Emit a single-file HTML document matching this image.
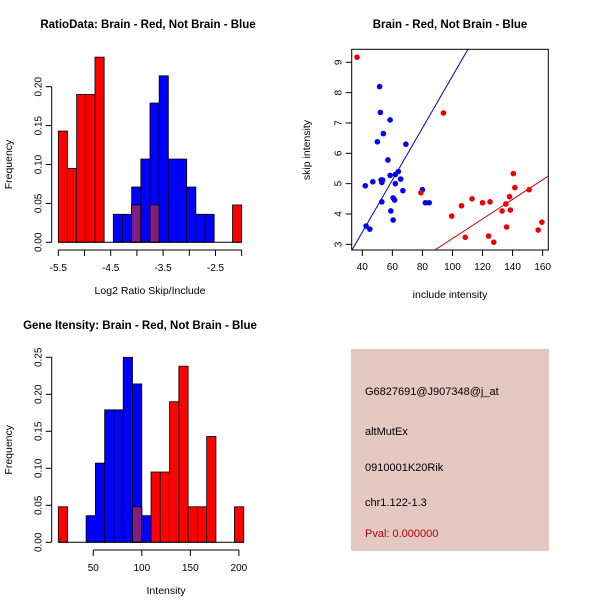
<!DOCTYPE html>
<html><head><meta charset="utf-8"><style>
body{margin:0;background:#fff}
svg{display:block;font-family:"Liberation Sans",sans-serif}
</style></head><body>
<svg id="s" width="600" height="600" xmlns="http://www.w3.org/2000/svg">
<rect width="600" height="600" fill="#fff"/>
<text x="148" y="28" text-anchor="middle" font-size="11.5" font-weight="bold">RatioData: Brain - Red, Not Brain - Blue</text>
<text x="450" y="28" text-anchor="middle" font-size="11.5" font-weight="bold">Brain - Red, Not Brain - Blue</text>
<text x="140" y="329" text-anchor="middle" font-size="11.5" font-weight="bold">Gene Itensity: Brain - Red, Not Brain - Blue</text>
<g id="p1"></g>
<g id="p2"></g>
<g id="p3"></g>
<g font-size="11">
<rect x="351" y="349" width="198" height="202" fill="#e6c8c2"/>
<text x="365" y="395">G6827691@J907348@j_at</text>
<text x="365" y="435">altMutEx</text>
<text x="365" y="471">0910001K20Rik</text>
<text x="365" y="506">chr1.122-1.3</text>
<text x="365" y="537" fill="#b00000">Pval: 0.000000</text>
</g>
</svg>
<script>
// Histogram 1 data (bin index -> frequency)
const h1Red = [0.143,0.095,0.19,0.19,0.238,0,0,0,0.048,0,0.048,0,0,0,0,0,0,0,0,0.048];
const h1Blue = [0,0,0,0,0,0,0.036,0.036,0.071,0.107,0.179,0.214,0.107,0.107,0.071,0.036,0.036,0,0,0];
const h1XTicks = [-5.5,-5,-4.5,-4,-3.5,-3,-2.5,-2];
const h1XLabels = ["-5.5","","-4.5","","-3.5","","-2.5",""];
const h1YTicks = [0,0.05,0.10,0.15,0.20];
const h1YLabels = ["0.00","0.05","0.10","0.15","0.20"];
// Histogram 3 data
const h3Red = [0.048,0,0,0,0,0,0,0,0.048,0,0.095,0.095,0.19,0.238,0.048,0.048,0.143,0,0,0.048];
const h3Blue = [0,0,0,0.036,0.107,0.179,0.179,0.25,0.214,0.036,0,0,0,0,0,0,0,0,0,0];
const h3XTicks = [50,100,150,200];
const h3YTicks = [0,0.05,0.10,0.15,0.20,0.25];
const h3YLabels = ["0.00","0.05","0.10","0.15","0.20","0.25"];
// Scatter data
const blueX = [51.5,52,58.5,54,50,69,57,64,62,58.5,65.5,52.5,53.5,53,47,42,62,80,67,60.5,61.5,53,82,84.5,59,60.5,42.5,45];
const blueY = [8.2,7.35,7.1,6.65,6.38,6.3,5.78,5.4,5.3,5.27,5.15,5.12,5.12,5.04,5.06,4.93,5,4.8,4.77,4.53,4.46,4.4,4.37,4.37,4.1,3.8,3.6,3.5];
const redX = [36.5,94,79,99.5,106,113,108.5,120,125,124,127.5,133,135.5,136,138,138.5,140.5,141.5,151,157,159.5];
const redY = [9.17,7.33,4.7,3.93,4.27,4.5,3.23,4.37,4.4,3.27,3.07,4.1,4.33,3.57,4.57,4.13,5.33,4.87,4.8,3.47,3.73];
const blueFit = [-0.032,0.0858];
const redFit = [-0.04,0.0323];
const sxTicks = [40,60,80,100,120,140,160];
const syTicks = [3,4,5,6,7,8,9];

const NS="http://www.w3.org/2000/svg";
function mk(parent,tag,attrs){const e=document.createElementNS(NS,tag);for(const k in attrs)e.setAttribute(k,attrs[k]);parent.appendChild(e);return e;}

function hist(g,red,blue,x0,bw,px0,pxPerUnit,y0px,pyPerUnit,xt,xl,xtLo,xtHi,yt,yl,axisX,axisBot,xlabel,nameP){
  const X=v=>px0+(v-x0)*pxPerUnit, Y=v=>y0px-v*pyPerUnit;
  for(let i=0;i<red.length;i++){
    const xa=X(x0+i*bw), w=bw*pxPerUnit;
    if(red[i]>0){const r=mk(g,'rect',{x:xa,y:Y(red[i]),width:w,height:red[i]*pyPerUnit,fill:'#ff0000',stroke:'#000','stroke-width':0.8});
      
      }
  }
  for(let i=0;i<blue.length;i++){
    const xa=X(x0+i*bw), w=bw*pxPerUnit;
    if(blue[i]>0){const r=mk(g,'rect',{x:xa,y:Y(blue[i]),width:w,height:blue[i]*pyPerUnit,fill:'#0000ff',stroke:'#000','stroke-width':0.8});
      
      
      const m=Math.min(blue[i],red[i]);
      if(m>0){const o=mk(g,'rect',{x:xa,y:Y(m),width:w,height:m*pyPerUnit,fill:'#7f1f80',stroke:'#000','stroke-width':0.8});
        
        }
    }
  }
  mk(g,'line',{x1:X(x0),x2:X(x0+red.length*bw),y1:y0px,y2:y0px,stroke:'#000'});
  mk(g,'line',{x1:X(xtLo),x2:X(xtHi),y1:axisBot,y2:axisBot,stroke:'#000'});
  xt.forEach((v,i)=>{mk(g,'line',{x1:X(v),x2:X(v),y1:axisBot,y2:axisBot+6,stroke:'#000'});
    if(xl[i]){const t=mk(g,'text',{x:X(v),y:axisBot+21,'text-anchor':'middle','font-size':10});t.textContent=xl[i];
      
      }});
  mk(g,'line',{x1:axisX,x2:axisX,y1:Y(yt[0]),y2:Y(yt[yt.length-1]),stroke:'#000'});
  yt.forEach((v,i)=>{mk(g,'line',{x1:axisX,x2:axisX-6,y1:Y(v),y2:Y(v),stroke:'#000'});
    const t=mk(g,'text',{x:axisX-10,y:Y(v),'text-anchor':'middle','font-size':10,transform:`rotate(-90 ${axisX-10} ${Y(v)})`});t.textContent=yl[i];
    
    });
  const xt2=mk(g,'text',{x:(X(xtLo)+X(xtHi))/2,y:axisBot+44,'text-anchor':'middle','font-size':10.5});xt2.textContent=xlabel;
  
  
  const yc=(Y(yt[0])+Y(yt[yt.length-1]))/2;
  const yt2=mk(g,'text',{x:12,y:yc,'text-anchor':'middle','font-size':10.5,transform:`rotate(-90 12 ${yc})`});yt2.textContent='Frequency';
  
  
}
const p1=document.getElementById('p1');
hist(p1,h1Red,h1Blue,-5.5,0.175,58.3,52.4,242.3,778,h1XTicks,h1XLabels,-5.5,-2,h1YTicks,h1YLabels,51.7,250,'Log2 Ratio Skip/Include','ratio');
const p3=document.getElementById('p3');
hist(p3,h3Red,h3Blue,14,9.55,58.3,0.971,542.3,740,h3XTicks,h3XTicks.map(String),50,200,h3YTicks,h3YLabels,51.7,550,'Intensity','intensity');

const g2=document.getElementById('p2');
const SX=v=>362.3+(v-40)*1.503, SY=v=>244.3-(v-3)*30.33;
const bx0=351.7,bx1=548.3,by0=49.3,by1=250;
const cp=mk(g2,'clipPath',{id:'cp'});mk(cp,'rect',{x:bx0,y:by0,width:bx1-bx0,height:by1-by0});
function fit(c,col,name){const xa=(bx0-362.3)/1.503+40, xb=(bx1-362.3)/1.503+40;
  const l=mk(g2,'line',{x1:SX(xa),y1:SY(c[0]+c[1]*xa),x2:SX(xb),y2:SY(c[0]+c[1]*xb),stroke:col,'clip-path':'url(#cp)'});
  
  }
fit(blueFit,'#0000cc','blue-fit-line');
fit(redFit,'#cc0000','red-fit-line');
blueX.forEach((x,i)=>{const c=mk(g2,'circle',{cx:SX(x),cy:SY(blueY[i]),r:2.8,fill:'#0000ee'});
  
  });
redX.forEach((x,i)=>{const c=mk(g2,'circle',{cx:SX(x),cy:SY(redY[i]),r:2.8,fill:'#ee0000'});
  
  });
mk(g2,'rect',{x:bx0,y:by0,width:bx1-bx0,height:by1-by0,fill:'none',stroke:'#000'});
sxTicks.forEach(v=>{mk(g2,'line',{x1:SX(v),x2:SX(v),y1:by1,y2:by1+6,stroke:'#000'});
  const t=mk(g2,'text',{x:SX(v),y:by1+20,'text-anchor':'middle','font-size':10});t.textContent=v;
  
  });
syTicks.forEach(v=>{mk(g2,'line',{x1:bx0,x2:bx0-6,y1:SY(v),y2:SY(v),stroke:'#000'});
  const t=mk(g2,'text',{x:bx0-10,y:SY(v),'text-anchor':'middle','font-size':10,transform:`rotate(-90 ${bx0-10} ${SY(v)})`});t.textContent=v;
  
  });
const sxl=mk(g2,'text',{x:450,y:298,'text-anchor':'middle','font-size':10.5});sxl.textContent='include intensity';


const syl=mk(g2,'text',{x:310,y:150,'text-anchor':'middle','font-size':10.5,transform:'rotate(-90 310 150)'});syl.textContent='skip intensity';


</script>
</body></html>
